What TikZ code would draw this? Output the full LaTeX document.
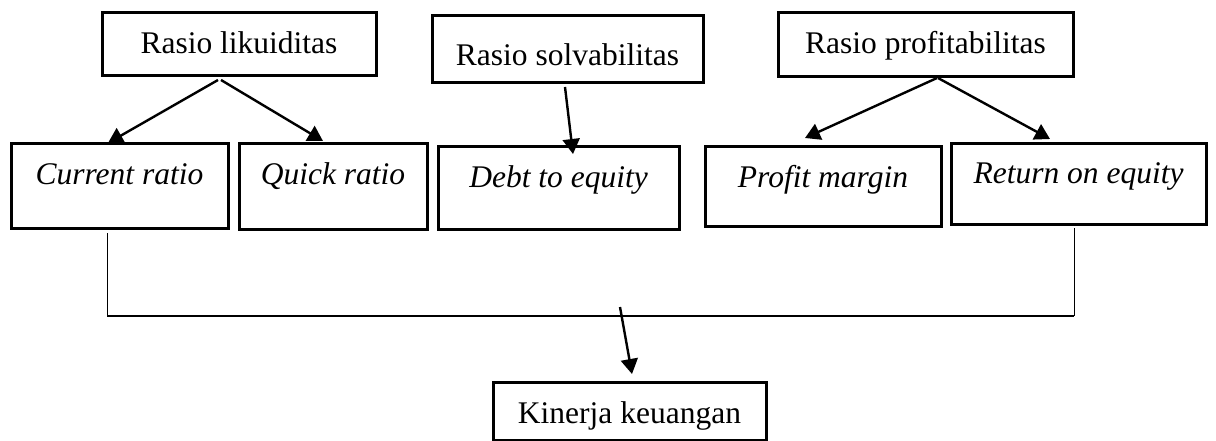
\documentclass[tikz,border=0pt]{standalone}
\usepackage{fontspec}
\setmainfont{Liberation Serif}
\usetikzlibrary{arrows.meta,calc}
\begin{document}
\begin{tikzpicture}[x=1pt,y=-1pt,
  font=\fontsize{31.5}{36}\selectfont,
  box/.style={draw,line width=3pt,anchor=north west,inner sep=0pt,outer sep=0pt,align=center},
  arr/.style={line width=2.4pt,-{Triangle[length=15pt,width=17pt]}},
  thin line/.style={line width=1pt}]
\useasboundingbox (0,0) rectangle (1216,441);
\node[box,minimum width=274pt,text height=41pt,text depth=22pt] (rl) at (102,13) {Rasio likuiditas};
\node[box,minimum width=271pt,text height=50pt,text depth=17pt] (rs) at (432,16) {Rasio solvabilitas};
\node[box,minimum width=295pt,text height=41pt,text depth=23pt] (rp) at (778,13) {Rasio profitabilitas};
\node[box,minimum width=217pt,text height=41pt,text depth=43pt] (cr) at (11,144) {\itshape Current ratio};
\node[box,minimum width=188pt,text height=41pt,text depth=44pt] (qr) at (239,144) {\itshape Quick ratio};
\node[box,minimum width=241pt,text height=41pt,text depth=41pt] (de) at (438,147) {\itshape Debt to equity};
\node[box,minimum width=236pt,text height=41pt,text depth=38pt] (pm) at (705,147) {\itshape Profit margin};
\node[box,minimum width=255pt,text height=39pt,text depth=41pt] (roe) at (951,144) {\itshape Return on equity};
\node[box,minimum width=273pt,text height=41pt,text depth=17pt] (kk) at (493,382) {Kinerja keuangan};
\draw[arr] ($(rl.south west)+(116,4)$) -- ($(cr.north west)+(97,-1)$);
\draw[arr] ($(rl.south west)+(119,4)$) -- ($(qr.north west)+(84,-3)$);
\draw[arr] ($(rs.south west)+(133,4)$) -- ($(de.north west)+(135,7)$);
\draw[arr] ($(rp.south west)+(159,1)$) -- ($(pm.north west)+(100,-9)$);
\draw[arr] ($(rp.south west)+(160,1)$) -- ($(roe.north west)+(99,-5)$);
\coordinate (bl) at ($(cr.south west)+(96,5)$);
\coordinate (br) at ($(roe.south west)+(123,4)$);
\coordinate (hl) at (bl |- 0,316);
\coordinate (hr) at (br |- 0,316);
\draw[thin line] (bl) -- (hl);
\draw[thin line] (br) -- (hr);
\draw[line width=1.6pt] (hl) -- (hr);
\coordinate (j) at (620,307);
\draw[arr] (j) -- ($(kk.north west)+(139,-8)$);
\end{tikzpicture}
\end{document}
